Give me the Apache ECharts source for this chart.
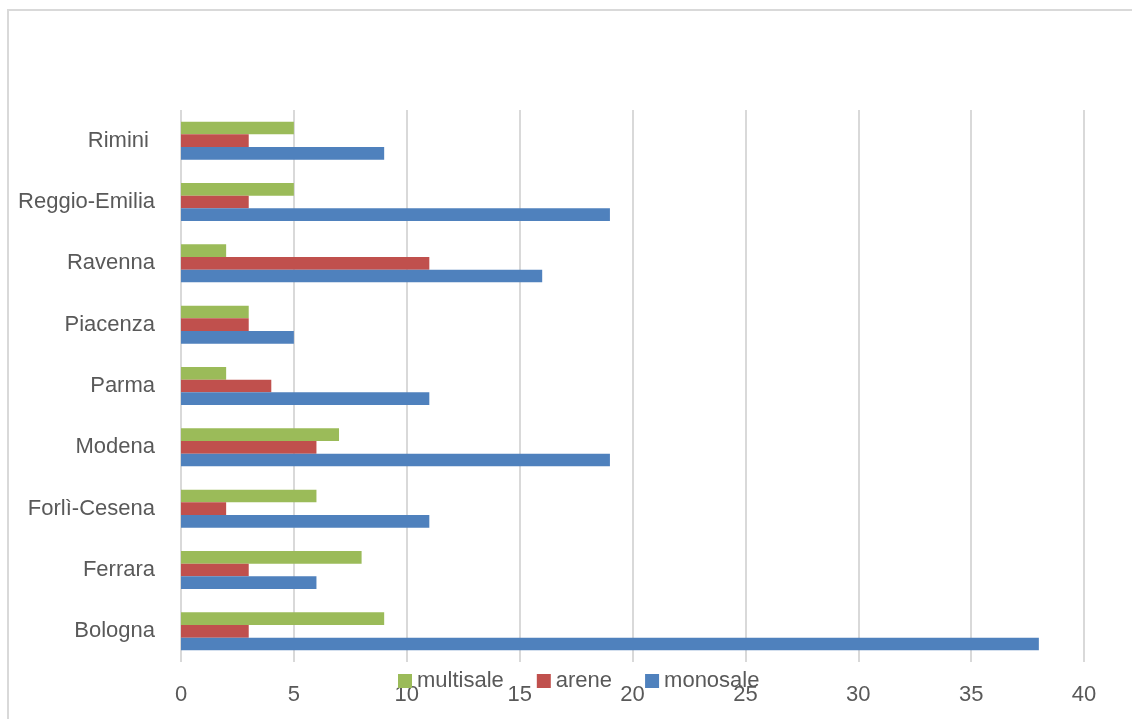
<!DOCTYPE html>
<html>
<head>
<meta charset="utf-8">
<script src="https://cdn.jsdelivr.net/npm/echarts@6/dist/echarts.min.js"></script>
<style>
html,body{margin:0;padding:0;background:#fff;}
#main{width:1132px;height:719px;}
</style>
</head>
<body>
<div id="main"></div>
<script>
const categories = ['Bologna','Ferrara','Forlì-Cesena','Modena','Parma','Piacenza','Ravenna','Reggio-Emilia','Rimini '];
const monosale = [38, 6, 11, 19, 11, 5, 16, 19, 9];
const arene = [3, 3, 2, 6, 4, 3, 11, 3, 3];
const multisale = [9, 8, 6, 7, 2, 3, 2, 5, 5];
const xTicks = {min: 0, max: 40, interval: 5};

const chart = echarts.init(document.getElementById('main'));
const font = 'Liberation Sans';
chart.setOption({
  animation: false,
  backgroundColor: '#fff',
  graphic: [{
    type: 'rect', silent: true,
    shape: {x: 8, y: 10, width: 1300, height: 900},
    style: {fill: 'none', stroke: '#d9d9d9', lineWidth: 2}
  }],
  grid: {left: 181, right: 48, top: 110, bottom: 57, containLabel: false},
  legend: {
    data: ['multisale', 'arene', 'monosale'],
    left: 393, top: 665,
    itemWidth: 14, itemHeight: 14, itemGap: 33,
    icon: 'rect',
    textStyle: {color: '#595959', fontSize: 22, fontFamily: font}
  },
  xAxis: {
    type: 'value', min: xTicks.min, max: xTicks.max, interval: xTicks.interval,
    axisLine: {show: false}, axisTick: {show: false},
    splitLine: {show: true, lineStyle: {color: '#d9d9d9', width: 2}},
    axisLabel: {color: '#595959', fontSize: 22, fontFamily: font, margin: 22}
  },
  yAxis: {
    type: 'category', data: categories,
    axisLine: {show: false}, axisTick: {show: false},
    axisLabel: {color: '#595959', fontSize: 22, fontFamily: font, margin: 26}
  },
  series: [
    {name: 'multisale', type: 'bar', data: multisale, itemStyle: {color: '#9bbb59'}, barGap: '0%', barCategoryGap: '38%'},
    {name: 'arene', type: 'bar', data: arene, itemStyle: {color: '#c0504d'}, barGap: '0%', barCategoryGap: '38%'},
    {name: 'monosale', type: 'bar', data: monosale, itemStyle: {color: '#4f81bd'}, barGap: '0%', barCategoryGap: '38%'}
  ]
});
</script>
</body>
</html>
